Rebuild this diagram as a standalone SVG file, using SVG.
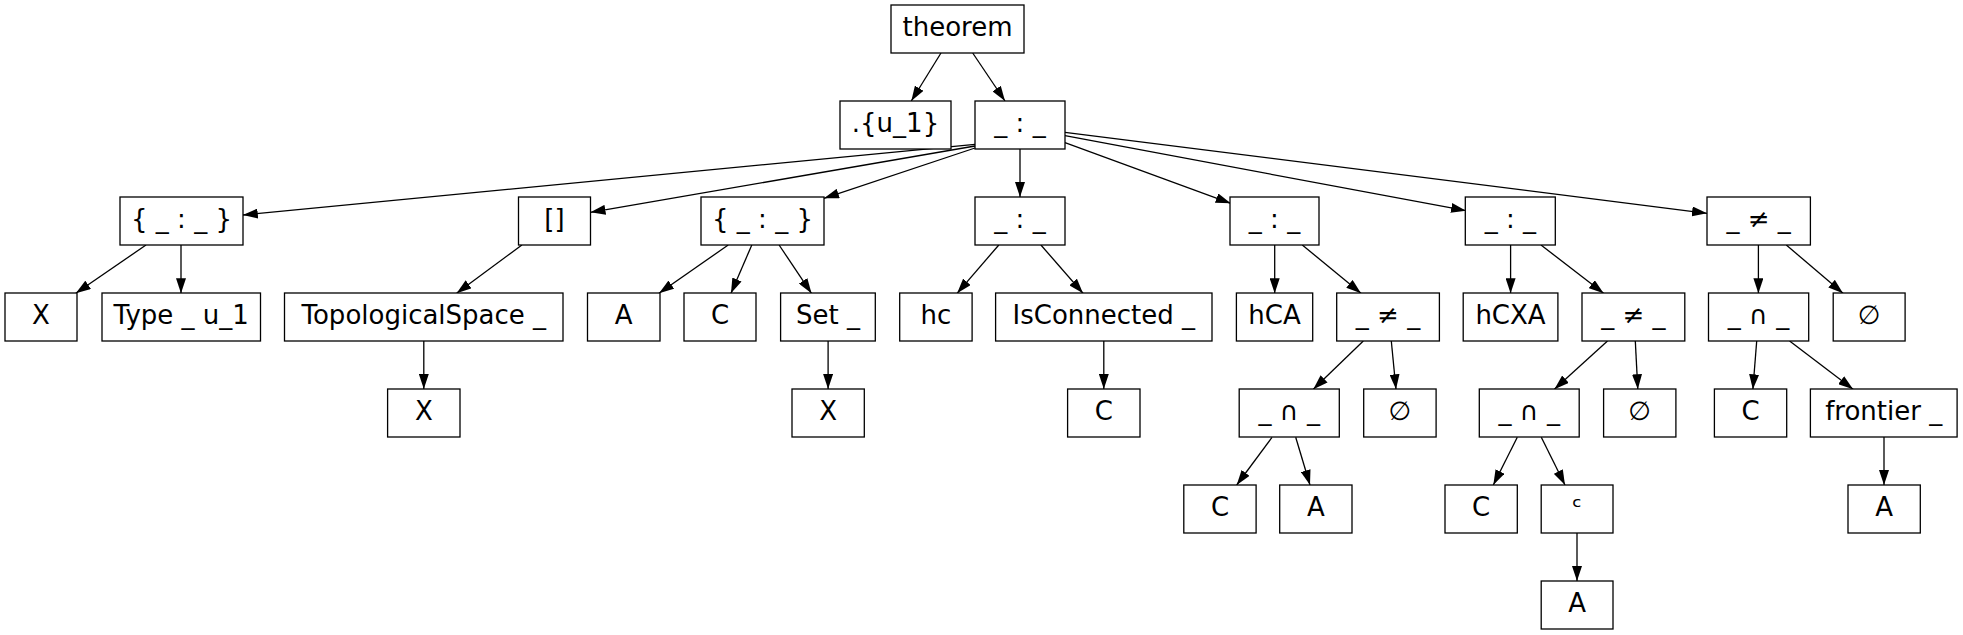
<svg xmlns="http://www.w3.org/2000/svg" width="1963" height="635" viewBox="0 0 1963 635">
<style>
rect{fill:#fff;stroke:#000;stroke-width:1.3}
text{font-family:"DejaVu Sans","Liberation Sans",sans-serif;font-size:26px;text-anchor:middle;fill:#000}
#edges line{stroke:#000;stroke-width:1.3;marker-end:url(#ah)}
</style>
<defs>
<marker id="ah" markerUnits="userSpaceOnUse" markerWidth="15" markerHeight="10" refX="15" refY="5" orient="auto">
<path d="M0,0 L15,5 L0,10 z" fill="#000"/>
</marker>
</defs>
<rect x="0" y="0" width="1963" height="635" style="stroke:none"/>
<g id="edges">
<line x1="941" y1="53" x2="911.3" y2="101"/>
<line x1="972.7" y1="53" x2="1005" y2="101"/>
<line x1="975" y1="144.3" x2="242.8" y2="215"/>
<line x1="975" y1="146" x2="590.5" y2="212.3"/>
<line x1="975" y1="148" x2="824" y2="198.3"/>
<line x1="1020" y1="149" x2="1020" y2="197"/>
<line x1="1065" y1="142.7" x2="1230.7" y2="203.3"/>
<line x1="1065" y1="135.7" x2="1466" y2="210.7"/>
<line x1="1065" y1="132.3" x2="1707" y2="213.3"/>
<line x1="146" y1="245" x2="75.8" y2="293.3"/>
<line x1="181" y1="245" x2="181" y2="293.3"/>
<line x1="521.9" y1="245" x2="456.6" y2="293.3"/>
<line x1="423.8" y1="341" x2="423.8" y2="389"/>
<line x1="728.2" y1="245" x2="659" y2="293.3"/>
<line x1="751.8" y1="245" x2="731" y2="293.3"/>
<line x1="779.1" y1="245" x2="811.5" y2="293.3"/>
<line x1="828.1" y1="341" x2="828.1" y2="389"/>
<line x1="998.8" y1="245" x2="957.1" y2="293.3"/>
<line x1="1040.9" y1="245" x2="1083" y2="293.3"/>
<line x1="1103.8" y1="341" x2="1103.8" y2="389"/>
<line x1="1274.7" y1="245" x2="1274.7" y2="293.3"/>
<line x1="1302.3" y1="245" x2="1361" y2="293.3"/>
<line x1="1363.3" y1="341" x2="1313.3" y2="389.3"/>
<line x1="1391.3" y1="341" x2="1396" y2="389.3"/>
<line x1="1272" y1="437.3" x2="1236.7" y2="485"/>
<line x1="1295.7" y1="437.3" x2="1310" y2="485"/>
<line x1="1510.6" y1="245" x2="1510.6" y2="293.3"/>
<line x1="1541" y1="245" x2="1603.6" y2="293.3"/>
<line x1="1607.5" y1="341" x2="1554.4" y2="389.3"/>
<line x1="1635.3" y1="341" x2="1637.8" y2="389.3"/>
<line x1="1517.3" y1="437.3" x2="1493.3" y2="485"/>
<line x1="1541.3" y1="437.3" x2="1565" y2="485"/>
<line x1="1577" y1="533" x2="1577" y2="581"/>
<line x1="1758.4" y1="245" x2="1758.4" y2="293.3"/>
<line x1="1786.3" y1="245" x2="1843" y2="293.3"/>
<line x1="1756.7" y1="341" x2="1752.9" y2="389.3"/>
<line x1="1789.6" y1="341" x2="1853.1" y2="389.3"/>
<line x1="1884" y1="437" x2="1884" y2="485"/>
</g>
<g id="n0"><rect x="891" y="5" width="133" height="48"/><text x="957.5" y="35.5">theorem</text></g>
<g id="n1"><rect x="840" y="101" width="111" height="48"/><text x="895.5" y="131.5">.{u_1}</text></g>
<g id="n2"><rect x="975" y="101" width="90" height="48"/><text x="1020" y="131.5">_ : _</text></g>
<g id="n3"><rect x="120" y="197" width="123" height="48"/><text x="181.5" y="227.5">{ _ : _ }</text></g>
<g id="n4"><rect x="518.5" y="197" width="72" height="48"/><text x="554.5" y="227.5">[]</text></g>
<g id="n5"><rect x="701" y="197" width="123" height="48"/><text x="762.5" y="227.5">{ _ : _ }</text></g>
<g id="n6"><rect x="975" y="197" width="90" height="48"/><text x="1020" y="227.5">_ : _</text></g>
<g id="n7"><rect x="1230" y="197" width="89" height="48"/><text x="1274.5" y="227.5">_ : _</text></g>
<g id="n8"><rect x="1465.3" y="197" width="90" height="48"/><text x="1510.3" y="227.5">_ : _</text></g>
<g id="n9"><rect x="1707" y="197" width="103.4" height="48"/><text x="1758.7" y="227.5">_ ≠ _</text></g>
<g id="n10"><rect x="5" y="293" width="72" height="48"/><text x="41" y="323.5">X</text></g>
<g id="n11"><rect x="102" y="293" width="158.5" height="48"/><text x="181.2" y="323.5">Type _ u_1</text></g>
<g id="n12"><rect x="284.5" y="293" width="278.5" height="48"/><text x="423.8" y="323.5">TopologicalSpace _</text></g>
<g id="n13"><rect x="587.5" y="293" width="72.5" height="48"/><text x="623.7" y="323.5">A</text></g>
<g id="n14"><rect x="684" y="293" width="72" height="48"/><text x="720" y="323.5">C</text></g>
<g id="n15"><rect x="780.6" y="293" width="94.7" height="48"/><text x="828" y="323.5">Set _</text></g>
<g id="n16"><rect x="899.7" y="293" width="72.4" height="48"/><text x="935.9" y="323.5">hc</text></g>
<g id="n17"><rect x="995.6" y="293" width="216.4" height="48"/><text x="1103.8" y="323.5">IsConnected _</text></g>
<g id="n18"><rect x="1236.4" y="293" width="76.3" height="48"/><text x="1274.5" y="323.5">hCA</text></g>
<g id="n19"><rect x="1336.7" y="293" width="102.7" height="48"/><text x="1388" y="323.5">_ ≠ _</text></g>
<g id="n20"><rect x="1463.2" y="293" width="94.7" height="48"/><text x="1510.5" y="323.5">hCXA</text></g>
<g id="n21"><rect x="1582" y="293" width="102.8" height="48"/><text x="1633.4" y="323.5">_ ≠ _</text></g>
<g id="n22"><rect x="1708.5" y="293" width="100.2" height="48"/><text x="1758.6" y="323.5">_ ∩ _</text></g>
<g id="n23"><rect x="1833.2" y="293" width="71.9" height="48"/><text x="1869.1" y="323.5">∅</text></g>
<g id="n24"><rect x="387.6" y="389" width="72.4" height="48"/><text x="423.8" y="419.5">X</text></g>
<g id="n25"><rect x="792" y="389" width="72.3" height="48"/><text x="828.1" y="419.5">X</text></g>
<g id="n26"><rect x="1067.6" y="389" width="72.4" height="48"/><text x="1103.8" y="419.5">C</text></g>
<g id="n27"><rect x="1239.2" y="389" width="100.1" height="48"/><text x="1289.2" y="419.5">_ ∩ _</text></g>
<g id="n28"><rect x="1363.7" y="389" width="72.4" height="48"/><text x="1399.9" y="419.5">∅</text></g>
<g id="n29"><rect x="1479.3" y="389" width="99.9" height="48"/><text x="1529.2" y="419.5">_ ∩ _</text></g>
<g id="n30"><rect x="1603.6" y="389" width="72.3" height="48"/><text x="1639.7" y="419.5">∅</text></g>
<g id="n31"><rect x="1714.4" y="389" width="72.3" height="48"/><text x="1750.5" y="419.5">C</text></g>
<g id="n32"><rect x="1810.4" y="389" width="146.7" height="48"/><text x="1883.7" y="419.5">frontier _</text></g>
<g id="n33"><rect x="1183.8" y="485" width="72.3" height="48"/><text x="1220" y="515.5">C</text></g>
<g id="n34"><rect x="1279.7" y="485" width="72.3" height="48"/><text x="1315.8" y="515.5">A</text></g>
<g id="n35"><rect x="1445" y="485" width="72.3" height="48"/><text x="1481.1" y="515.5">C</text></g>
<g id="n36"><rect x="1541.2" y="485" width="71.8" height="48"/><text x="1577.1" y="515.5">ᶜ</text></g>
<g id="n37"><rect x="1848" y="485" width="72.3" height="48"/><text x="1884.1" y="515.5">A</text></g>
<g id="n38"><rect x="1541.2" y="581" width="71.8" height="48"/><text x="1577.1" y="611.5">A</text></g>
</svg>
